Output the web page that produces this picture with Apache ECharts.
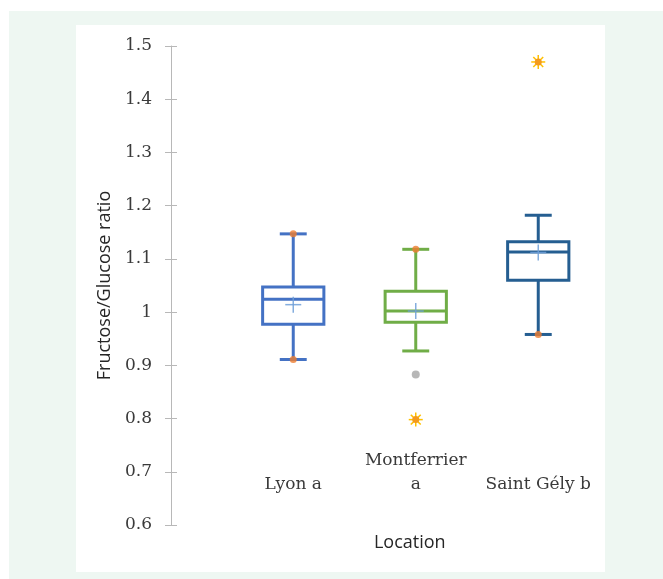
<!DOCTYPE html>
<html>
<head>
<meta charset="utf-8">
<script src="https://cdn.jsdelivr.net/npm/echarts@6/dist/echarts.min.js"></script>
<style>
  html, body { margin: 0; padding: 0; background: #fff; }
  #chart { width: 663px; height: 579px; }
</style>
</head>
<body>
<div id="chart"></div>
<script>
// values
const categories = ['Lyon a', 'Montferrier\na', 'Saint Gély b'];
const whiskerLow = [0.911, 0.927, 0.958];
const q1 = [0.977, 0.981, 1.060];
const median = [1.024, 1.002, 1.113];
const q3 = [1.047, 1.039, 1.132];
const whiskerHigh = [1.147, 1.118, 1.182];
const means = [1.014, 1.002, 1.112];
const innerPoints = [[0, 1.147], [0, 0.911], [1, 1.118], [2, 0.958]];
const grayPoints = [[1, 0.883]];
const starPoints = [[1, 0.798], [2, 1.470]];
const yTicks = { min: 0.6, max: 1.5, step: 0.1 };

const boxColors = ['#4472c4', '#70ad47', '#255e91'];

const boxData = categories.map((c, i) => [i, whiskerLow[i], q1[i], median[i], q3[i], whiskerHigh[i]]);
const meanData = means.map((m, i) => [i, m]);

function renderBox(params, api) {
  const i = api.value(0);
  const band = api.size([1, 0])[0];
  const x = api.coord([i, 0])[0];
  const y = k => api.coord([i, api.value(k)])[1];
  const yLow = y(1), yQ1 = y(2), yMed = y(3), yQ3 = y(4), yHigh = y(5);
  const half = band * 0.25;
  const cap = band * 0.11;
  const st = { stroke: boxColors[i], lineWidth: 3, fill: null };
  return {
    type: 'group',
    children: [
      { type: 'line', shape: { x1: x, y1: yQ3, x2: x, y2: yHigh }, style: st },
      { type: 'line', shape: { x1: x, y1: yQ1, x2: x, y2: yLow }, style: st },
      { type: 'line', shape: { x1: x - cap, y1: yHigh, x2: x + cap, y2: yHigh }, style: st },
      { type: 'line', shape: { x1: x - cap, y1: yLow, x2: x + cap, y2: yLow }, style: st },
      { type: 'rect', shape: { x: x - half, y: yQ3, width: half * 2, height: yQ1 - yQ3 }, style: st },
      { type: 'line', shape: { x1: x - half, y1: yMed, x2: x + half, y2: yMed }, style: st }
    ]
  };
}

function renderCross(params, api) {
  const p = api.coord([api.value(0), api.value(1)]);
  const st = { stroke: '#6f9fd8', lineWidth: 1.5, opacity: 0.85 };
  return {
    type: 'group',
    children: [
      { type: 'line', shape: { x1: p[0] - 8, y1: p[1], x2: p[0] + 8, y2: p[1] }, style: st },
      { type: 'line', shape: { x1: p[0], y1: p[1] - 8, x2: p[0], y2: p[1] + 8 }, style: st }
    ]
  };
}

function renderStar(params, api) {
  const p = api.coord([api.value(0), api.value(1)]);
  const rays = [];
  for (let k = 0; k < 8; k++) {
    const a = k * Math.PI / 4;
    rays.push({
      type: 'line',
      shape: { x1: p[0], y1: p[1], x2: p[0] + 7 * Math.cos(a), y2: p[1] + 7 * Math.sin(a) },
      style: { stroke: '#ffc000', lineWidth: 1.5 }
    });
  }
  rays.push({ type: 'circle', shape: { cx: p[0], cy: p[1], r: 3.5 }, style: { fill: '#f39a1e' } });
  return { type: 'group', children: rays };
}

const yBase = {
  type: 'value',
  min: yTicks.min,
  max: yTicks.max,
  interval: yTicks.step,
  position: 'left',
  offset: 61,
  splitLine: { show: false }
};

const chart = echarts.init(document.getElementById('chart'));
chart.setOption({
  backgroundColor: '#fff',
  animation: false,
  graphic: [
    { type: 'rect', z: -10, shape: { x: 9, y: 11, width: 654, height: 568 }, style: { fill: '#eef7f2' } },
    { type: 'rect', z: -9, shape: { x: 76, y: 25, width: 529, height: 547 }, style: { fill: '#ffffff' } }
  ],
  grid: { left: 232, right: 63.5, top: 46, bottom: 54 },
  xAxis: {
    type: 'category',
    data: categories,
    axisLine: { show: false },
    axisTick: { show: false },
    axisLabel: {
      interval: 0,
      margin: -28,
      verticalAlign: 'bottom',
      lineHeight: 24,
      fontFamily: 'DejaVu Serif',
      fontSize: 17,
      color: '#3a3a3a'
    },
    name: 'Location',
    nameLocation: 'middle',
    nameGap: 9,
    nameTextStyle: { fontFamily: 'Open Sans', fontSize: 18, color: '#262626', padding: [0, 12, 0, 0] }
  },
  yAxis: [
    Object.assign({}, yBase, {
      axisLine: { show: true, lineStyle: { color: '#b8b8b8', width: 1 } },
      axisTick: { show: true, length: 6, lineStyle: { color: '#b8b8b8' } },
      axisLabel: { margin: 19, fontFamily: 'DejaVu Serif', fontSize: 17, color: '#3a3a3a' },
      name: 'Fructose/Glucose ratio',
      nameLocation: 'middle',
      nameGap: 47,
      nameTextStyle: { fontFamily: 'Open Sans', fontSize: 18, color: '#262626' }
    }),
    Object.assign({}, yBase, {
      axisLine: { show: false },
      axisTick: { show: true, inside: true, length: 6, lineStyle: { color: '#b8b8b8' } },
      axisLabel: { show: false }
    })
  ],
  series: [
    { type: 'custom', renderItem: renderBox, data: boxData, encode: { x: 0, y: [1, 2, 3, 4, 5] } },
    { type: 'custom', renderItem: renderCross, data: meanData, encode: { x: 0, y: 1 } },
    { type: 'scatter', data: innerPoints, symbol: 'circle', symbolSize: 7, itemStyle: { color: '#ed7d31' } },
    { type: 'scatter', data: grayPoints, symbol: 'circle', symbolSize: 8, itemStyle: { color: '#a5a5a5' } },
    { type: 'custom', renderItem: renderStar, data: starPoints, encode: { x: 0, y: 1 } }
  ]
});
</script>
</body>
</html>
